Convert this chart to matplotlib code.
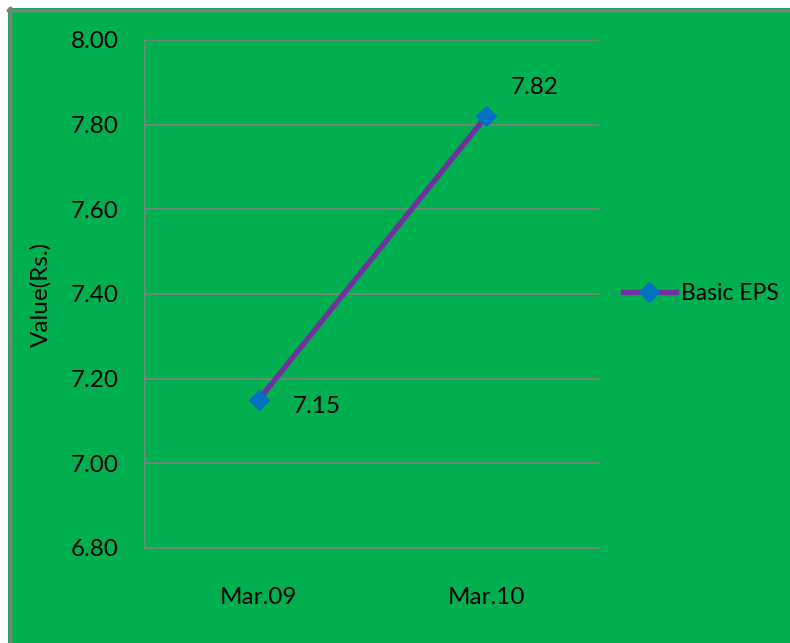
import matplotlib
matplotlib.use("Agg")
import matplotlib.pyplot as plt
from matplotlib.patches import Rectangle

plt.rcParams['font.family'] = ['Lato', 'DejaVu Sans']

categories = ["Mar.09", "Mar.10"]
eps_values = [7.15, 7.82]
series_name = "Basic EPS"
y_ticks = [6.80, 7.00, 7.20, 7.40, 7.60, 7.80, 8.00]

GREEN = "#00B050"
FS = 17.5
fig = plt.figure(figsize=(7.90, 6.43), dpi=100)
fig.patch.set_facecolor(GREEN)
# white margin on top/left with gray border
fig.add_artist(Rectangle((0, 0), 8/790, 1, transform=fig.transFigure,
                         facecolor="white", edgecolor="none", zorder=-10))
fig.add_artist(Rectangle((0, 1 - 8/643), 1, 8/643, transform=fig.transFigure,
                         facecolor="white", edgecolor="none", zorder=-10))
fig.add_artist(plt.Line2D([9.5/790, 9.5/790], [0, 1 - 8/643], transform=fig.transFigure,
                          color="#808080", lw=2.5, zorder=-9))
fig.add_artist(plt.Line2D([8/790, 1], [1 - 9.5/643, 1 - 9.5/643], transform=fig.transFigure,
                          color="#808080", lw=2.5, zorder=-9))

ax = fig.add_axes([145/790, 1 - 548/643, 455/790, (548 - 40)/643])
ax.set_facecolor(GREEN)
x = list(range(len(categories)))
ax.plot(x, eps_values, color="#7030A0", lw=3.8, marker="D", markersize=10,
        markerfacecolor="#0070C0", markeredgecolor="#0070C0", label=series_name, zorder=3)

ax.set_xlim(-0.5, len(categories) - 0.5)
ax.set_ylim(y_ticks[0], y_ticks[-1])
ax.set_yticks(y_ticks)
ax.set_yticklabels([f"{v:.2f}" for v in y_ticks], fontsize=FS)
ax.set_xticks(x)
ax.set_xticklabels(categories, fontsize=FS)
ax.tick_params(axis="y", length=0, pad=19)
ax.tick_params(axis="x", length=0, pad=28)
ax.grid(axis="y", color="#808080", lw=1.2)
for s in ["top", "right"]:
    ax.spines[s].set_visible(False)
for s in ["left", "bottom"]:
    ax.spines[s].set_color("#808080")
    ax.spines[s].set_linewidth(1.2)
ax.set_ylabel("Value(Rs.)", fontsize=FS, labelpad=14)

offsets = [(24.5, -5), (18, 21)]
for xi, v, off in zip(x, eps_values, offsets):
    ax.annotate(f"{v:.2f}", (xi, v), xytext=off, textcoords="offset points",
                fontsize=FS, ha="left", va="center")

leg = ax.legend(loc="center left", bbox_to_anchor=(1.0, 0.5), frameon=False,
                fontsize=FS - 1, handlelength=2.3, handletextpad=0.25, borderaxespad=0.6)

fig.savefig("out.png", dpi=100, facecolor=fig.get_facecolor())
